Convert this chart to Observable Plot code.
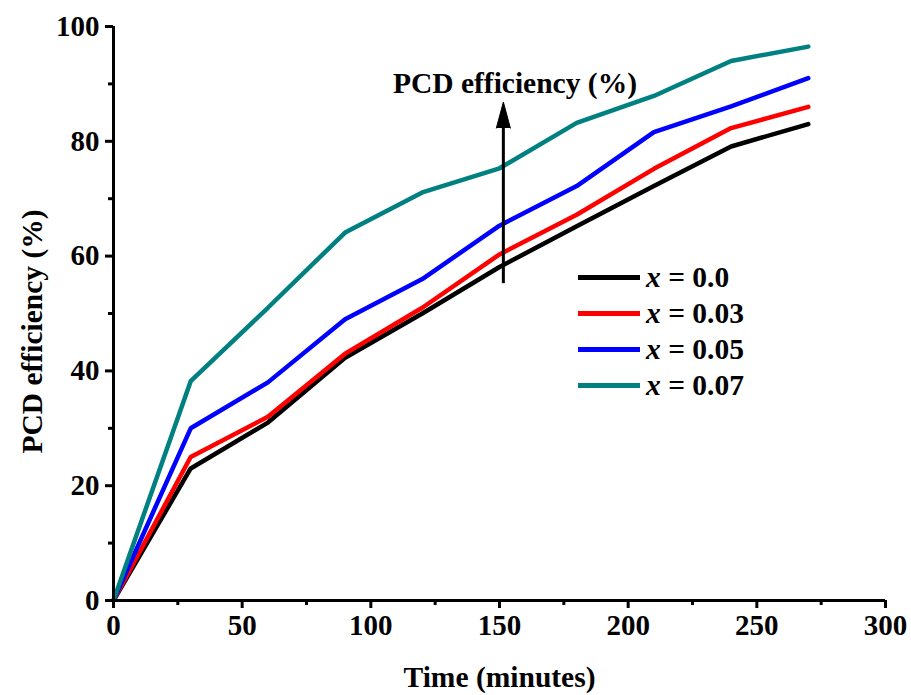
<!DOCTYPE html>
<html>
<head>
<meta charset="utf-8">
<script src="https://cdn.jsdelivr.net/npm/d3@7"></script>
<script src="https://cdn.jsdelivr.net/npm/@observablehq/plot@0.6"></script>
<style>
  body { margin: 0; background: #fff; }
  #wrap { position: relative; width: 911px; height: 695px; font-family: "Liberation Serif", "Times New Roman", serif; }
  #wrap svg text { font-weight: bold; }
  #legend { position: absolute; left: 578px; top: 259px; font-weight: bold; font-size: 29.5px; color: #000; }
  #legend .row { display: flex; align-items: center; height: 36px; }
  #legend .sw { width: 62px; height: 5px; margin-right: 6px; }
  #legend i { font-style: italic; }
</style>
</head>
<body>
<div id="wrap"><div id="legend"></div></div>
<script>
// ---- data ----
const times = [0, 30, 60, 90, 120, 150, 180, 210, 240, 270];
const seriesNames = ["0.0", "0.03", "0.05", "0.07"];
const seriesColors = ["#000000", "#ff0000", "#0000ff", "#008080"];
const s00 = [0, 23, 31, 42.3, 50, 58.1, 65.2, 72.2, 79.1, 83];
const s003 = [0, 25, 32, 43, 51, 60.3, 67.2, 75.2, 82.3, 86];
const s005 = [0, 30, 38, 49, 56, 65.3, 72.2, 81.6, 86.1, 91];
const s007 = [0, 38.2, 51, 64.1, 71.1, 75.3, 83.2, 87.9, 94, 96.5];
const xMajorTicks = [0, 50, 100, 150, 200, 250, 300];
const xMinorTicks = [25, 75, 125, 175, 225, 275];
const yMajorTicks = [0, 20, 40, 60, 80, 100];
const yMinorTicks = [10, 30, 50, 70, 90];
const arrowX = [151.5];
const arrowY1 = [55.2];
const arrowY2 = [82.3];
const annotText = ["PCD efficiency (%)"];
const annotX = [156];
const annotY = [90];

const allSeries = [s00, s003, s005, s007];
const rows = [];
allSeries.forEach((vals, si) => {
  vals.forEach((v, i) => rows.push({t: times[i], v, s: seriesNames[si]}));
});

const plot = Plot.plot({
  width: 911,
  height: 695,
  marginLeft: 113,
  marginRight: 26,
  marginTop: 26,
  marginBottom: 95,
  style: {fontFamily: "Liberation Serif, Times New Roman, serif", fontSize: "29px", background: "white", color: "black", overflow: "visible"},
  x: {domain: [0, 300]},
  y: {domain: [0, 100]},
  color: {domain: seriesNames, range: seriesColors},
  marks: [
    Plot.line(rows, {x: "t", y: "v", z: "s", stroke: "s", strokeWidth: 4.5, strokeLinejoin: "miter"}),
    Plot.ruleY([0], {stroke: "black", strokeWidth: 3}),
    Plot.ruleX([0], {stroke: "black", strokeWidth: 3}),
    Plot.axisX({ticks: xMajorTicks, tickSize: 8, tickPadding: 6, strokeWidth: 3, fontSize: 29, label: null, tickFormat: d => d}),
    Plot.axisX({ticks: xMinorTicks, tickSize: 5, strokeWidth: 3, text: null, label: null}),
    Plot.axisY({ticks: yMajorTicks, tickSize: 8, tickPadding: 6, strokeWidth: 3, fontSize: 29, label: null, tickFormat: d => d}),
    Plot.axisY({ticks: yMinorTicks, tickSize: 5, strokeWidth: 3, text: null, label: null}),
    Plot.text(["Time (minutes)"], {frameAnchor: "bottom", textAnchor: "middle", dy: 77, fontSize: 29.5, fontWeight: "bold", lineAnchor: "middle"}),
    Plot.text(["PCD efficiency (%)"], {frameAnchor: "left", textAnchor: "middle", rotate: -90, dx: -81, dy: 18, fontSize: 29.5, fontWeight: "bold", lineAnchor: "middle"}),
    Plot.ruleX(arrowX, {y1: arrowY1, y2: arrowY2, x: d => d, stroke: "black", strokeWidth: 3}),
    Plot.vector(arrowX, {x: d => d, y: arrowY2, shape: "spike", length: 26, r: 7, anchor: "start", fill: "black", stroke: "black", strokeWidth: 1}),
    Plot.text(annotText, {x: annotX, y: annotY, text: d => d, fontSize: 29.5, fontWeight: "bold", lineAnchor: "middle"})
  ]
});
document.getElementById("wrap").prepend(plot);

// legend
const legend = d3.select("#legend");
seriesNames.forEach((name, i) => {
  const row = legend.append("div").attr("class", "row");
  row.append("div").attr("class", "sw").style("background", seriesColors[i]);
  const label = row.append("span");
  label.append("i").text("x");
  label.append("span").text(" = " + name);
});
</script>
</body>
</html>
